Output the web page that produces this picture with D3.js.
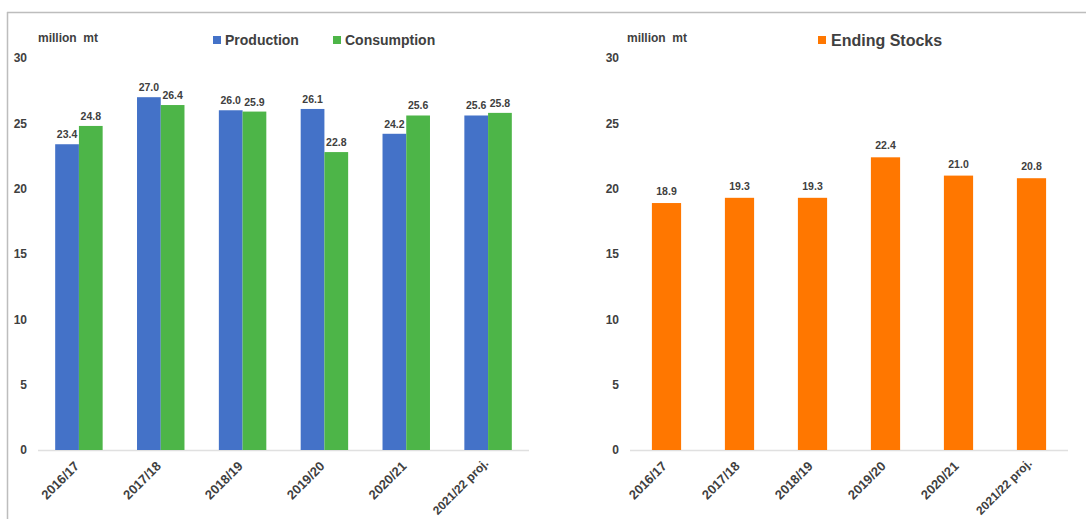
<!DOCTYPE html>
<html>
<head>
<meta charset="utf-8">
<script src="https://cdn.jsdelivr.net/npm/d3@7"></script>
<style>
  body { margin: 0; background: #fff; }
  svg { display: block; font-family: "Liberation Sans", Arial, sans-serif; }
  .tick-label { font-size: 12px; font-weight: bold; fill: #404040; }
  .cat-label { font-size: 13px; font-weight: bold; fill: #404040; }
  .val { font-size: 10.5px; font-weight: bold; fill: #404040; }
  .unit { font-size: 12px; font-weight: bold; fill: #404040; }
</style>
</head>
<body>
<svg id="chart" width="1086" height="519"></svg>
<script>
// Data
const years = ['2016/17', '2017/18', '2018/19', '2019/20', '2020/21', '2021/22 proj.'];
const production = [23.4, 27.0, 26.0, 26.1, 24.2, 25.6];
const consumption = [24.8, 26.4, 25.9, 22.8, 25.6, 25.8];
const endingStocks = [18.9, 19.3, 19.3, 22.4, 21.0, 20.8];
const yTicks = [0, 5, 10, 15, 20, 25, 30];

const COLORS = { production: '#4472c8', consumption: '#4db548', stocks: '#ff7700' };

const svg = d3.select('#chart');

// frame
svg.append('line').attr('x1', 7).attr('x2', 1086).attr('y1', 12.5).attr('y2', 12.5)
    .attr('stroke', '#bdbdbd').attr('stroke-width', 1.5);
svg.append('line').attr('x1', 7.5).attr('x2', 7.5).attr('y1', 12).attr('y2', 519)
    .attr('stroke', '#bdbdbd').attr('stroke-width', 1.5);

const y = d3.scaleLinear().domain([0, 30]).range([450, 58]);

function drawAxes(x, labelX) {
    // y tick labels
    svg.append('g').selectAll('text').data(yTicks).join('text')
        .attr('class', 'tick-label')
        .attr('x', labelX).attr('y', d => y(d)).attr('dy', '0.35em')
        .attr('text-anchor', 'end')
        .text(d => d);

    // baseline
    const [r0, r1] = x.range();
    svg.append('line').attr('x1', r0).attr('x2', r1)
        .attr('y1', y(0) + 0.5).attr('y2', y(0) + 0.5)
        .attr('stroke', '#e0e0e0').attr('stroke-width', 1.5);

    // category labels (long last label slightly smaller so it stays in frame)
    svg.append('g').selectAll('text').data(years).join('text')
        .attr('class', 'cat-label')
        .attr('text-anchor', 'end')
        .style('font-size', d => d.length > 8 ? '12px' : null)
        .attr('transform', d => `translate(${x(d) + x.bandwidth() / 2 + 1},${y(0) + (d.length > 8 ? 14 : 17)}) rotate(-45)`)
        .text(d => d);
}

// ---- Left chart: production / consumption
const x1 = d3.scaleBand().domain(years).range([38, 529]).paddingInner(0.42).paddingOuter(0.21);
const sub = d3.scaleBand().domain(['production', 'consumption']).range([0, x1.bandwidth()]);
drawAxes(x1, 27);

const series1 = [
    { key: 'production', values: production },
    { key: 'consumption', values: consumption }
];
series1.forEach(s => {
    const g = svg.append('g');
    g.selectAll('rect').data(s.values).join('rect')
        .attr('x', (d, i) => x1(years[i]) + sub(s.key))
        .attr('y', d => y(d))
        .attr('width', sub.bandwidth())
        .attr('height', d => y(0) - y(d))
        .attr('fill', COLORS[s.key]);
    g.selectAll('text').data(s.values).join('text')
        .attr('class', 'val')
        .attr('x', (d, i) => x1(years[i]) + sub(s.key) + sub.bandwidth() / 2)
        .attr('y', d => y(d) - 6)
        .attr('text-anchor', 'middle')
        .text(d => d.toFixed(1));
});

svg.append('text').attr('class', 'unit').attr('x', 38).attr('y', 42).attr('xml:space', 'preserve').text('million  mt');

const legend1 = [
    { key: 'production', label: 'Production', x: 213 },
    { key: 'consumption', label: 'Consumption', x: 333 }
];
legend1.forEach(l => {
    svg.append('rect').attr('x', l.x).attr('y', 36).attr('width', 8).attr('height', 8).attr('fill', COLORS[l.key]);
    svg.append('text').attr('x', l.x + 12).attr('y', 45)
        .style('font-size', '14px').style('font-weight', 'bold').style('fill', '#404040')
        .text(l.label);
});

// ---- Right chart: ending stocks
const x2 = d3.scaleBand().domain(years).range([630, 1068]).paddingInner(0.6).paddingOuter(0.3);
drawAxes(x2, 619);

svg.append('g').selectAll('rect').data(endingStocks).join('rect')
    .attr('x', (d, i) => x2(years[i]))
    .attr('y', d => y(d))
    .attr('width', x2.bandwidth())
    .attr('height', d => y(0) - y(d))
    .attr('fill', COLORS.stocks);
svg.append('g').selectAll('text').data(endingStocks).join('text')
    .attr('class', 'val')
    .attr('x', (d, i) => x2(years[i]) + x2.bandwidth() / 2)
    .attr('y', d => y(d) - 8)
    .attr('text-anchor', 'middle')
    .text(d => d.toFixed(1));

svg.append('text').attr('class', 'unit').attr('x', 627).attr('y', 42).attr('xml:space', 'preserve').text('million  mt');
svg.append('rect').attr('x', 818).attr('y', 36).attr('width', 8).attr('height', 8).attr('fill', COLORS.stocks);
svg.append('text').attr('x', 831).attr('y', 45.5)
    .style('font-size', '16px').style('font-weight', 'bold').style('fill', '#404040')
    .text('Ending Stocks');
</script>
</body>
</html>
